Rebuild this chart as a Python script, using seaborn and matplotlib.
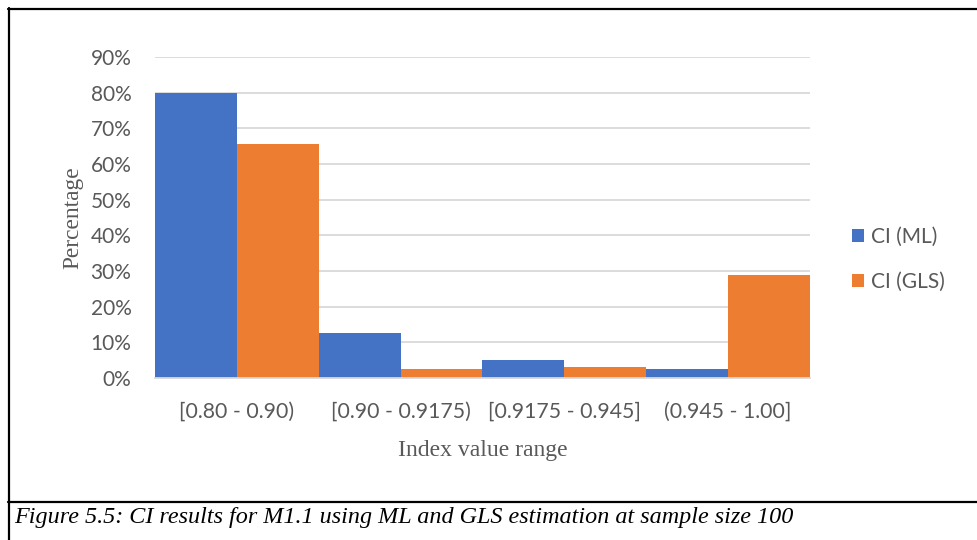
import matplotlib
matplotlib.use("Agg")
import matplotlib.pyplot as plt
import seaborn as sns
import pandas as pd
from matplotlib.lines import Line2D
from matplotlib.ticker import PercentFormatter

categories = ["[0.80 - 0.90)", "[0.90 - 0.9175)", "[0.9175 - 0.945]", "(0.945 - 1.00]"]
ml_values = [80.0, 12.5, 5.0, 2.5]
gls_values = [65.5, 2.5, 3.0, 29.0]
series_names = ["CI (ML)", "CI (GLS)"]
y_ticks = [0, 10, 20, 30, 40, 50, 60, 70, 80, 90]
caption = "Figure 5.5: CI results for M1.1 using ML and GLS estimation at sample size 100"

df = pd.DataFrame({
    "category": categories * 2,
    "value": ml_values + gls_values,
    "series": [series_names[0]] * 4 + [series_names[1]] * 4,
})

sns.set_style("white")
plt.rcParams['font.family'] = ['Lato', 'DejaVu Sans']

W, H = 978, 540
fig = plt.figure(figsize=(W / 100, H / 100), dpi=100)
ax = fig.add_axes([155 / W, 1 - 378 / H, (810 - 155) / W, (378 - 57) / H])

palette = {"CI (ML)": "#4472C4", "CI (GLS)": "#ED7D31"}
sns.barplot(data=df, x="category", y="value", hue="series", palette=palette,
            width=1.0, ax=ax, saturation=1, edgecolor="none", linewidth=0,
            hue_order=series_names, order=categories)

ax.set_ylim(0, 90)
ax.set_xlim(-0.5, 3.5)
ax.set_yticks(y_ticks)
ax.yaxis.set_major_formatter(PercentFormatter(decimals=0))
ax.yaxis.grid(True, color="#d9d9d9", linewidth=1.3)
ax.set_axisbelow(True)
for s in ["left", "right", "top"]:
    ax.spines[s].set_visible(False)
ax.spines["bottom"].set_color("#d9d9d9")
ax.spines["bottom"].set_linewidth(1.3)
ax.tick_params(axis="both", length=0, labelcolor="#595959")
ax.tick_params(axis="y", labelsize=15, pad=17)
ax.tick_params(axis="x", labelsize=15.3, pad=17)
ax.set_xlabel("Index value range", family="Liberation Serif", fontsize=17,
              color="#595959", labelpad=13)
ax.set_ylabel("Percentage", family="Liberation Serif", fontsize=16.8,
              color="#595959", labelpad=5)

leg = ax.legend(loc="center left", bbox_to_anchor=(1.035, 0.37), frameon=False,
                fontsize=15, handlelength=0.6, handleheight=0.6,
                handletextpad=0.35, labelspacing=1.2)
for t in leg.get_texts():
    t.set_color("#595959")

# frame lines
lw = 1.6
fig.add_artist(Line2D([8 / W, 1.0], [1 - 8.5 / H, 1 - 8.5 / H], color="black", lw=lw))
fig.add_artist(Line2D([8.5 / W, 8.5 / W], [1 - 8 / H, 0.0], color="black", lw=lw))
fig.add_artist(Line2D([8 / W, 1.0], [1 - 502 / H, 1 - 502 / H], color="black", lw=lw))

fig.text(14 / W, 1 - 518 / H, caption, family="Liberation Serif", style="italic",
         fontsize=17.4, va="center", ha="left", color="black")

fig.savefig("out.png", dpi=100)
